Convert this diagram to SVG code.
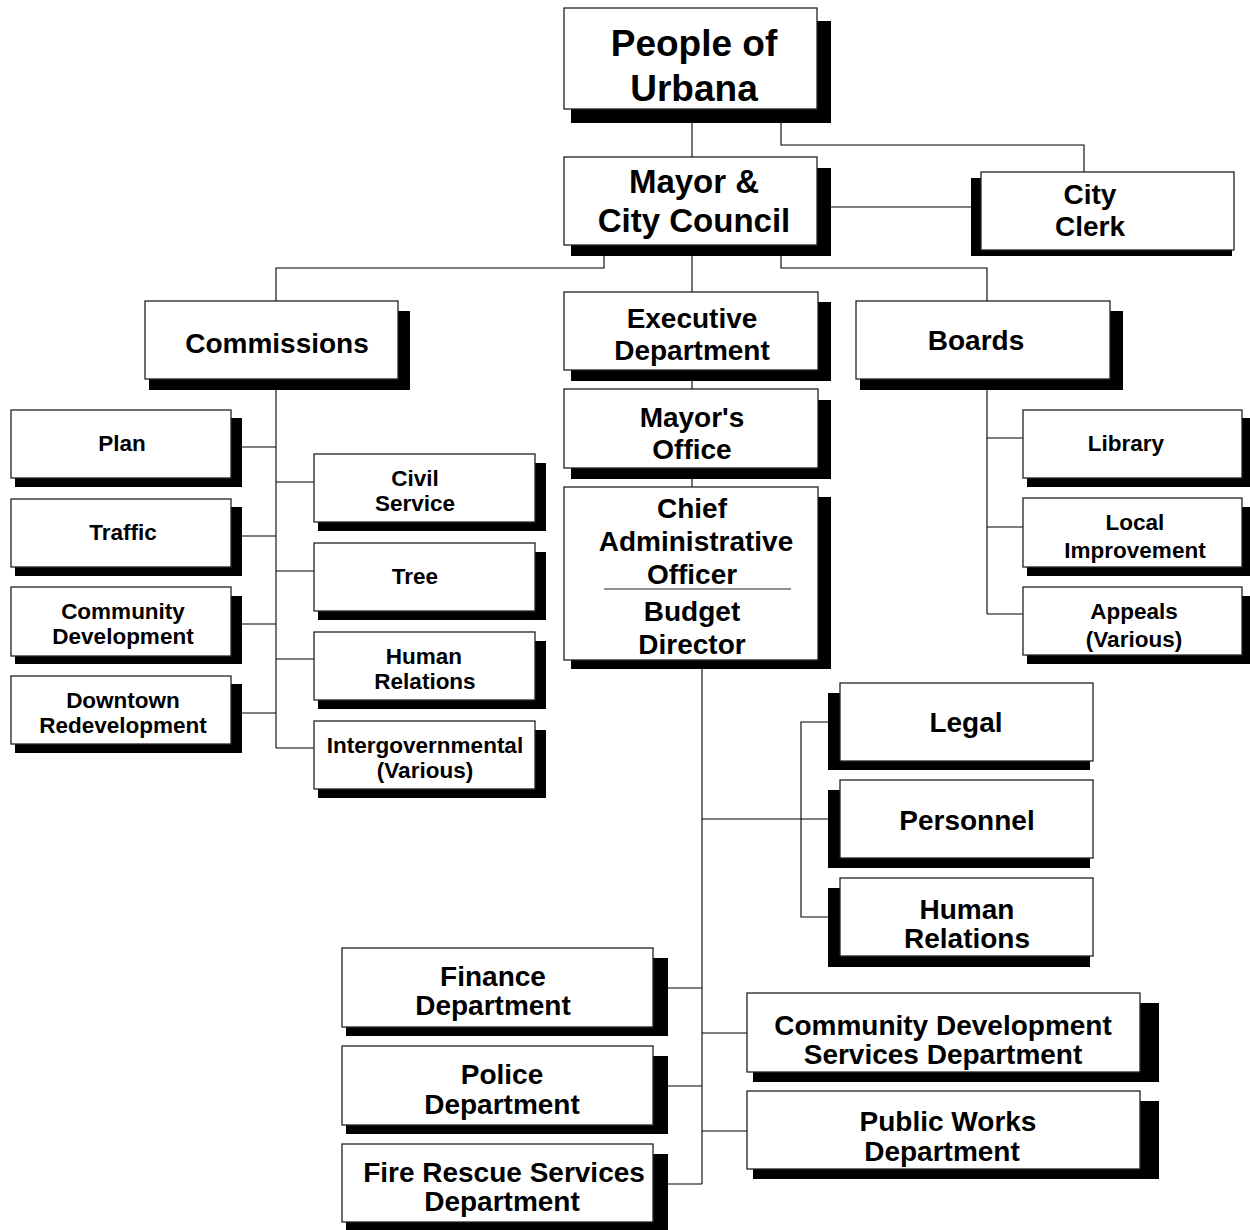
<svg xmlns="http://www.w3.org/2000/svg" width="1250" height="1230" viewBox="0 0 1250 1230">
<style>
.bx{fill:#fff;stroke:#222;stroke-width:1.3}
.sh{fill:#000}
.t{font-family:"Liberation Sans",Arial,sans-serif;font-weight:bold;fill:#000;text-anchor:middle}
.xl{font-size:37px}
.l{font-size:33px}
.m{font-size:28px}
.s{font-size:22.5px}
.c{fill:none;stroke:#000;stroke-width:1.1}
</style>
<rect width="1250" height="1230" fill="#fff"/>
<g id="connectors">
<path class="c" d="M692,109V157"/>
<path class="c" d="M781,109V145H1084V172"/>
<path class="c" d="M831,207H971"/>
<path class="c" d="M604,245V268H276V301"/>
<path class="c" d="M692,245V292"/>
<path class="c" d="M781,245V268H987V301"/>
<path class="c" d="M692,370V389"/>
<path class="c" d="M692,468V487"/>
<path class="c" d="M276,379V748"/>
<path class="c" d="M242,447H276M242,536H276M242,624H276M242,713H276"/>
<path class="c" d="M276,482H314M276,571H314M276,659H314M276,748H314"/>
<path class="c" d="M987,379V614M987,438H1023M987,527H1023M987,614H1023"/>
<path class="c" d="M702,660V1184"/>
<path class="c" d="M702,819H830M830,722H801V917H830"/>
<path class="c" d="M668,988H702M668,1086H702M668,1184H702"/>
<path class="c" d="M702,1033H747M702,1131H747"/>
</g>
<g id="people"><rect class="sh" x="571" y="21" width="260" height="102"/><rect class="bx" x="564" y="8" width="253" height="101"/>
<text class="t xl" x="694" y="56">People of</text><text class="t xl" x="694" y="101">Urbana</text></g>
<g id="mayor"><rect class="sh" x="571" y="168" width="260" height="88"/><rect class="bx" x="564" y="157" width="253" height="88"/>
<text class="t l" x="694" y="193">Mayor &amp;</text><text class="t l" x="694" y="232">City Council</text></g>
<g id="clerk"><rect class="sh" x="971" y="178" width="261" height="78"/><rect class="bx" x="981" y="172" width="253" height="78"/>
<text class="t m" x="1090" y="204">City</text><text class="t m" x="1090" y="236">Clerk</text></g>
<g id="commissions"><rect class="sh" x="149" y="311" width="261" height="79"/><rect class="bx" x="145" y="301" width="253" height="78"/>
<text class="t m" x="277" y="353">Commissions</text></g>
<g id="executive"><rect class="sh" x="571" y="302" width="260" height="79"/><rect class="bx" x="564" y="292" width="254" height="78"/>
<text class="t m" x="692" y="328">Executive</text><text class="t m" x="692" y="360">Department</text></g>
<g id="boards"><rect class="sh" x="860" y="311" width="263" height="79"/><rect class="bx" x="856" y="301" width="254" height="78"/>
<text class="t m" x="976" y="350">Boards</text></g>
<g id="mayors-office"><rect class="sh" x="571" y="400" width="260" height="79"/><rect class="bx" x="564" y="389" width="254" height="79"/>
<text class="t m" x="692" y="427">Mayor's</text><text class="t m" x="692" y="459">Office</text></g>
<g id="chief"><rect class="sh" x="571" y="497" width="260" height="172"/><rect class="bx" x="564" y="487" width="254" height="173"/>
<text class="t m" x="692" y="518">Chief</text><text class="t m" x="696" y="551">Administrative</text><text class="t m" x="692" y="584">Officer</text>
<line x1="604" y1="589" x2="791" y2="589" stroke="#222" stroke-width="1.2"/>
<text class="t m" x="692" y="621">Budget</text><text class="t m" x="692" y="654">Director</text></g>
<g id="plan"><rect class="sh" x="15" y="418" width="227" height="69"/><rect class="bx" x="11" y="410" width="220" height="68"/>
<text class="t s" x="122" y="451">Plan</text></g>
<g id="traffic"><rect class="sh" x="15" y="507" width="227" height="69"/><rect class="bx" x="11" y="499" width="220" height="68"/>
<text class="t s" x="123" y="540">Traffic</text></g>
<g id="community-dev"><rect class="sh" x="15" y="596" width="227" height="68"/><rect class="bx" x="11" y="587" width="220" height="69"/>
<text class="t s" x="123" y="619">Community</text><text class="t s" x="123" y="644">Development</text></g>
<g id="downtown"><rect class="sh" x="15" y="684" width="227" height="69"/><rect class="bx" x="11" y="676" width="220" height="68"/>
<text class="t s" x="123" y="708">Downtown</text><text class="t s" x="123" y="733">Redevelopment</text></g>
<g id="civil"><rect class="sh" x="318" y="463" width="228" height="68"/><rect class="bx" x="314" y="454" width="221" height="68"/>
<text class="t s" x="415" y="486">Civil</text><text class="t s" x="415" y="511">Service</text></g>
<g id="tree"><rect class="sh" x="318" y="552" width="228" height="68"/><rect class="bx" x="314" y="543" width="221" height="68"/>
<text class="t s" x="415" y="584">Tree</text></g>
<g id="human-relations-commission"><rect class="sh" x="318" y="641" width="228" height="68"/><rect class="bx" x="314" y="632" width="221" height="68"/>
<text class="t s" x="424" y="664">Human</text><text class="t s" x="425" y="689">Relations</text></g>
<g id="intergov"><rect class="sh" x="318" y="730" width="228" height="68"/><rect class="bx" x="314" y="721" width="221" height="68"/>
<text class="t s" x="425" y="753">Intergovernmental</text><text class="t s" x="425" y="778">(Various)</text></g>
<g id="library"><rect class="sh" x="1027" y="418" width="225" height="69"/><rect class="bx" x="1023" y="410" width="219" height="68"/>
<text class="t s" x="1126" y="451">Library</text></g>
<g id="local"><rect class="sh" x="1027" y="507" width="225" height="69"/><rect class="bx" x="1023" y="498" width="219" height="69"/>
<text class="t s" x="1135" y="530">Local</text><text class="t s" x="1135" y="558">Improvement</text></g>
<g id="appeals"><rect class="sh" x="1027" y="596" width="225" height="68"/><rect class="bx" x="1023" y="587" width="219" height="68"/>
<text class="t s" x="1134" y="619">Appeals</text><text class="t s" x="1134" y="647">(Various)</text></g>
<g id="legal"><rect class="sh" x="828" y="693" width="262" height="77"/><rect class="bx" x="840" y="683" width="253" height="78"/>
<text class="t m" x="966" y="732">Legal</text></g>
<g id="personnel"><rect class="sh" x="828" y="790" width="262" height="78"/><rect class="bx" x="840" y="780" width="253" height="78"/>
<text class="t m" x="967" y="830">Personnel</text></g>
<g id="human-relations"><rect class="sh" x="828" y="888" width="262" height="79"/><rect class="bx" x="840" y="878" width="253" height="78"/>
<text class="t m" x="967" y="919">Human</text><text class="t m" x="967" y="948">Relations</text></g>
<g id="finance"><rect class="sh" x="346" y="958" width="322" height="78"/><rect class="bx" x="342" y="948" width="311" height="79"/>
<text class="t m" x="493" y="986">Finance</text><text class="t m" x="493" y="1015">Department</text></g>
<g id="police"><rect class="sh" x="346" y="1056" width="322" height="78"/><rect class="bx" x="342" y="1046" width="311" height="79"/>
<text class="t m" x="502" y="1084">Police</text><text class="t m" x="502" y="1114">Department</text></g>
<g id="fire"><rect class="sh" x="346" y="1154" width="322" height="76"/><rect class="bx" x="342" y="1144" width="311" height="78"/>
<text class="t m" x="504" y="1182">Fire Rescue Services</text><text class="t m" x="502" y="1211">Department</text></g>
<g id="cds"><rect class="sh" x="753" y="1003" width="406" height="79"/><rect class="bx" x="747" y="993" width="393" height="79"/>
<text class="t m" x="943" y="1035">Community Development</text><text class="t m" x="943" y="1064">Services Department</text></g>
<g id="public-works"><rect class="sh" x="753" y="1101" width="406" height="78"/><rect class="bx" x="747" y="1091" width="393" height="78"/>
<text class="t m" x="948" y="1131">Public Works</text><text class="t m" x="942" y="1161">Department</text></g>
</svg>
